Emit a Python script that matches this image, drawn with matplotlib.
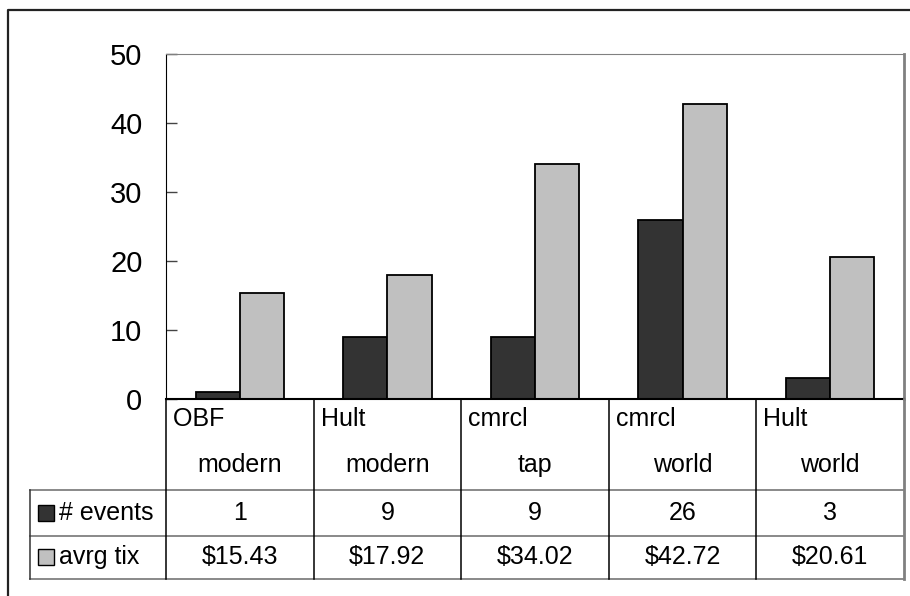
import matplotlib
matplotlib.use('Agg')
import matplotlib.pyplot as plt
import matplotlib.transforms as mtransforms
from matplotlib.lines import Line2D
from matplotlib.patches import Rectangle
import numpy as np

plt.rcParams['font.family'] = ['Liberation Sans', 'DejaVu Sans']

# data
cat_top = ['OBF', 'Hult', 'cmrcl', 'cmrcl', 'Hult']
cat_bottom = ['modern', 'modern', 'tap', 'world', 'world']
series_names = ['# events', 'avrg tix']
events = [1, 9, 9, 26, 3]
avg_tix = [15.43, 17.92, 34.02, 42.72, 20.61]
events_labels = ['1', '9', '9', '26', '3']
tix_labels = ['$15.43', '$17.92', '$34.02', '$42.72', '$20.61']
yticks = [0, 10, 20, 30, 40, 50]

W, H = 910, 596
DARK = '#333333'
LIGHT = '#c0c0c0'
GRID = '#808080'

fig = plt.figure(figsize=(W / 100, H / 100), dpi=100)


def fx(px):
    return px / W


def fy(py):
    return 1 - py / H


ax = fig.add_axes([fx(166), fy(399), fx(904) - fx(166), fy(54) - fy(399)])
x = np.arange(len(events))
bw = 0.3
ax.bar(x - bw / 2, events, bw, color=DARK, edgecolor='black', linewidth=1.3)
ax.bar(x + bw / 2, avg_tix, bw, color=LIGHT, edgecolor='black', linewidth=1.3)
ax.set_xlim(-0.5, len(events) - 0.5)
ax.set_ylim(0, 50)
ax.set_yticks(yticks)
ax.tick_params(axis='y', direction='in', length=8, width=1, color='#444444',
               labelsize=21, pad=17)
ax.tick_params(axis='x', length=0, labelbottom=False)
ax.spines['top'].set_color(GRID)
ax.spines['right'].set_color(GRID)
ax.spines['right'].set_linewidth(2)
ax.spines['left'].set_color('black')
ax.spines['bottom'].set_color('black')
ax.spines['bottom'].set_linewidth(1.5)

# data table under the plot: x from data coords, y in figure pixels
trans = mtransforms.blended_transform_factory(ax.transData, fig.transFigure)
ftr = fig.transFigure
n = len(events)
right_edge = n - 0.5

# horizontal lines
for py in [490, 536, 579]:
    fig.add_artist(Line2D([fx(30), fx(904)], [fy(py), fy(py)], transform=ftr,
                          color=GRID, lw=1.3))
# vertical lines
for i in range(n):
    fig.add_artist(Line2D([i - 0.5, i - 0.5], [fy(399), fy(579)], transform=trans,
                          color='black', lw=1.1))
fig.add_artist(Line2D([right_edge, right_edge], [fy(399), fy(579)], transform=trans,
                      color=GRID, lw=2))
fig.add_artist(Line2D([fx(30), fx(30)], [fy(490), fy(579)], transform=ftr,
                      color='#333333', lw=1.1))

fs = 18
for i in range(n):
    fig.text(i - 0.5, fy(419), ' ' + cat_top[i], transform=trans, ha='left', va='center',
             fontsize=fs)
    fig.text(i, fy(465), cat_bottom[i], transform=trans, ha='center', va='center',
             fontsize=fs)
    fig.text(i, fy(513), events_labels[i], transform=trans, ha='center', va='center',
             fontsize=fs)
    fig.text(i, fy(557), tix_labels[i], transform=trans, ha='center', va='center',
             fontsize=fs)

# legend keys in the table
for (py, col, name) in [(513, DARK, series_names[0]), (557, LIGHT, series_names[1])]:
    fig.add_artist(Rectangle((fx(38), fy(py + 8)), fx(16), fy(0) - fy(16), transform=ftr,
                             facecolor=col, edgecolor='black', lw=1))
    fig.text(fx(59), fy(py), name, transform=ftr, ha='left', va='center', fontsize=fs)

# outer chart border (runs off the right and bottom edges)
fig.add_artist(Line2D([fx(8), fx(8), fx(912)], [fy(598), fy(10), fy(10)], transform=ftr,
                      color='#222222', lw=1.6))

fig.savefig('out.png', dpi=100)
